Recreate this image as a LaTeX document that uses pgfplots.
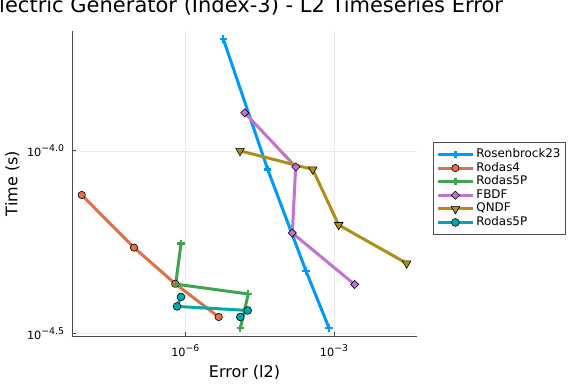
\documentclass[border=0pt]{standalone}
\usepackage{fontspec}
\setmainfont{DejaVu Sans}
\usepackage{pgfplots}
\pgfplotsset{compat=1.18}
\definecolor{c1}{RGB}{0,154,250}
\definecolor{c2}{RGB}{227,111,71}
\definecolor{c3}{RGB}{62,164,78}
\definecolor{c4}{RGB}{195,113,210}
\definecolor{c5}{RGB}{172,142,24}
\definecolor{c6}{RGB}{0,169,173}
\newcommand{\tenp}[1]{10\raisebox{4.6pt}{\fontsize{9.3pt}{10pt}\selectfont #1}}
\begin{document}
\begin{tikzpicture}
\useasboundingbox (-72pt,-48pt) rectangle (504pt,336pt);
\begin{axis}[
  at={(0pt,0pt)}, anchor=south west,
  scale only axis, width=345pt, height=305pt,
  xmin=-8.286, xmax=-1.325, ymin=-4.507, ymax=-3.672,
  axis lines*=left,
  axis line style={black!70, line width=0.9pt},
  tick align=inside, major tick length=4pt,
  tick style={black!70, line width=0.8pt},
  xtick={-6,-3}, xticklabels={\tenp{−6},\tenp{−3}},
  ytick={-4.5,-4}, yticklabels={\tenp{−4.5},\tenp{−4.0}},
  ticklabel style={font=\fontsize{11.3pt}{13pt}\selectfont},
  xticklabel style={anchor=base, yshift=-20pt},
  yticklabel style={anchor=east, xshift=-4.5pt},
  grid=major, major grid style={black!8, line width=0.6pt},
  title={Electric Generator (Index-3) - L2 Timeseries Error},
  title style={at={(axis description cs:0.5,1.0410)}, anchor=base, font=\fontsize{21pt}{23pt}\selectfont},
  xlabel={Error (l2)},
  xlabel style={at={(axis description cs:0.5,-0.1354)}, anchor=base, font=\fontsize{16pt}{18pt}\selectfont},
  ylabel={Time (s)},
  ylabel style={at={(axis description cs:-0.1586,0.5)}, anchor=base, font=\fontsize{16pt}{18pt}\selectfont},
  every axis plot/.append style={line width=3pt, line join=round},
  legend image code/.code={\draw[mark repeat=2,mark phase=2,#1] plot coordinates {(0pt,0pt) (17.5pt,0pt) (35pt,0pt)};},
  legend style={at={(axis description cs:1.0464,0.636)}, anchor=north west,
    draw=black!70, line width=0.8pt, fill=white,
    font=\fontsize{11.9pt}{12pt}\selectfont,
    inner xsep=3pt, inner ysep=6.5pt, row sep=2.6pt,
    nodes={inner xsep=2pt, inner ysep=0pt, text height=8.6pt, text depth=2.4pt},
    cells={anchor=west}},
]
\addplot[c1, mark=+, mark size=3.6pt, mark options={solid, line width=2.2pt}] coordinates {
(-5.233,-3.694) (-4.337,-4.051) (-3.565,-4.329) (-3.100,-4.485)};
\addlegendentry{Rosenbrock23}
\addplot[c2, mark=*, mark size=3.7pt, mark options={solid, draw=black, line width=0.6pt, fill=c2}] coordinates {
(-8.090,-4.121) (-7.035,-4.265) (-6.202,-4.364) (-5.326,-4.455)};
\addlegendentry{Rodas4}
\addplot[c3, mark=+, mark size=3.6pt, mark options={solid, line width=2.2pt}] coordinates {
(-6.087,-4.254) (-6.194,-4.365) (-4.729,-4.392) (-4.890,-4.486)};
\addlegendentry{Rodas5P}
\addplot[c4, mark=square*, mark size=2.9pt, mark options={solid, rotate=45, draw=black, line width=0.6pt, fill=c4}] coordinates {
(-4.801,-3.896) (-3.772,-4.044) (-3.841,-4.225) (-2.582,-4.366)};
\addlegendentry{FBDF}
\addplot[c5, mark=triangle*, mark size=5pt, mark options={solid, rotate=180, draw=black, line width=0.6pt, fill=c5}] coordinates {
(-4.896,-4.000) (-3.429,-4.051) (-2.905,-4.203) (-1.533,-4.308)};
\addlegendentry{QNDF}
\addplot[c6, mark=*, mark size=3.9pt, mark options={solid, draw=black, line width=0.6pt, fill=c6}] coordinates {
(-6.087,-4.400) (-6.167,-4.426) (-4.741,-4.437) (-4.890,-4.455)};
\addlegendentry{Rodas5P}
\end{axis}
\end{tikzpicture}
\end{document}
